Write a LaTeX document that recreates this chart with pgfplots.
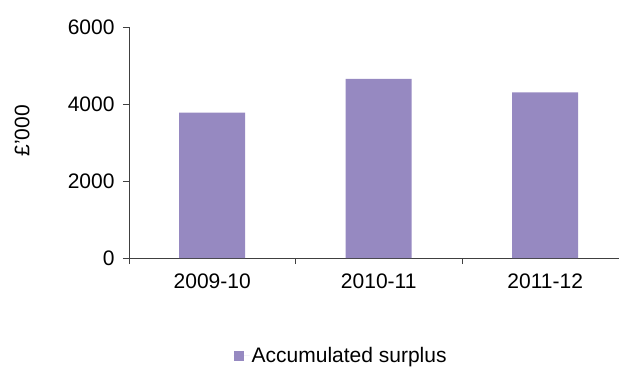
\documentclass[border=0pt]{standalone}
\usepackage{pgfplots}
\pgfplotsset{compat=1.18}
\usepackage{fontspec}
\setmainfont{Liberation Sans}
\definecolor{barc}{RGB}{150,137,193}
\begin{document}
\begin{tikzpicture}
\useasboundingbox (-129bp,-112bp) rectangle (490bp,258bp);
\begin{axis}[
  scale only axis,
  width=490bp, height=231bp,
  xmin=0, xmax=2.943,
  ymin=0, ymax=6000,
  axis x line=bottom, axis y line=left,
  axis line style={-, color=black!75, line width=0.8pt},
  font=\fontsize{21bp}{25bp}\selectfont,
  /pgf/number format/assume math mode=true,
  ytick={0,2000,4000,6000},
  yticklabel style={/pgf/number format/fixed, /pgf/number format/1000 sep={}, xshift=-5bp},
  xtick={0.5,1.5,2.5},
  xticklabels={2009-10,2010-11,2011-12},
  minor xtick={0,1,2,3},
  tick align=outside,
  major tick length=6bp,
  minor tick length=6bp,
  x tick style={draw=none},
  minor x tick style={draw=black!75, line width=0.8pt},
  y tick style={draw=black!75, line width=0.8pt},
  xticklabel style={yshift=-6bp},
  ylabel={£'000},
  ylabel style={at={(axis description cs:-0.218,0.55)}, anchor=center},
  legend style={at={(axis description cs:0.433,-0.424)}, anchor=center, draw=none, fill=none, font=\fontsize{21bp}{25bp}\selectfont, inner sep=0pt},
  legend image code/.code={\fill[barc] (0bp,-5bp) rectangle (10bp,5bp); \path (0bp,0bp) -- (16bp,0bp);},
  clip=false,
]
\addplot[ybar, bar width=66bp, fill=barc, draw=none] coordinates {(0.5,3775) (1.5,4650) (2.5,4305)};
\addlegendentry{Accumulated surplus}
\end{axis}
\end{tikzpicture}
\end{document}
